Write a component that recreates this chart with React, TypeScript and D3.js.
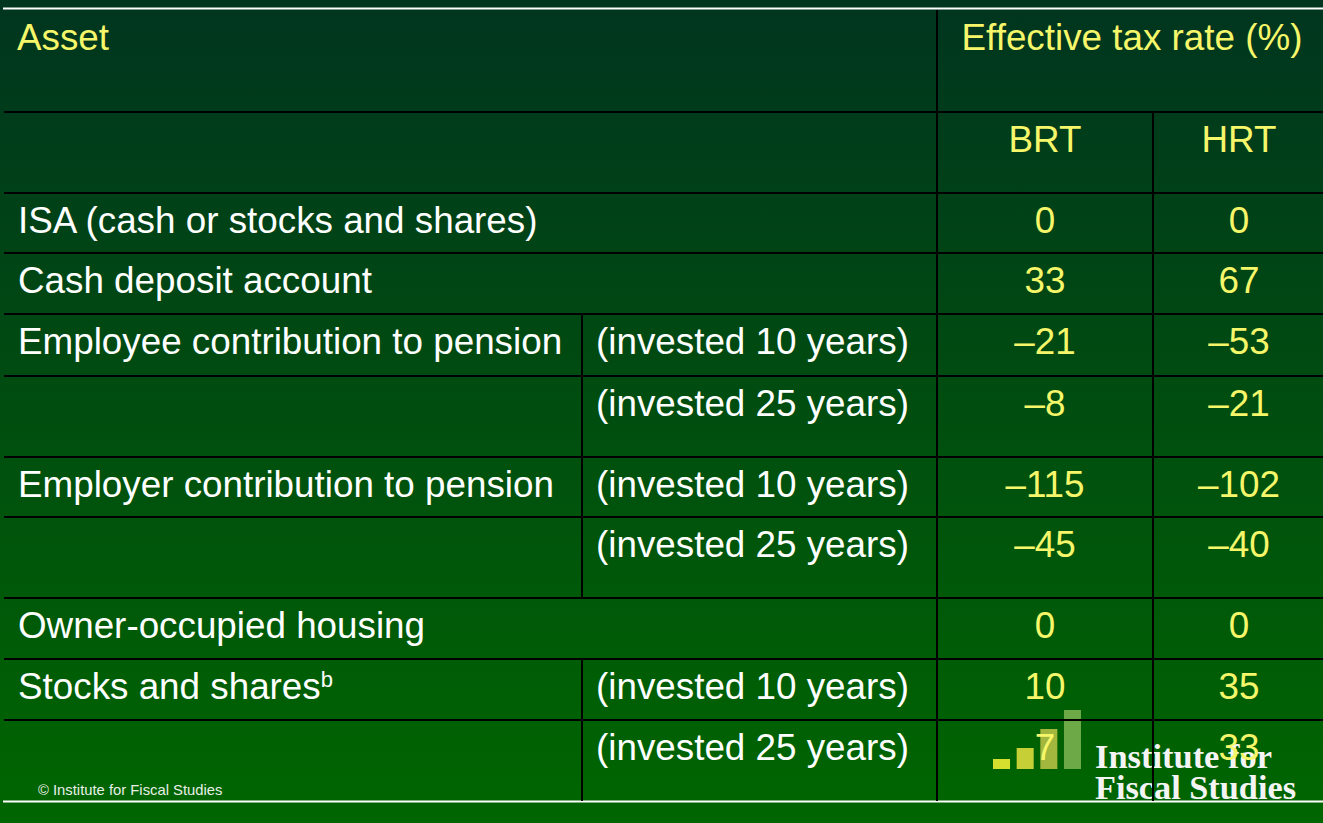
import { useEffect, useRef } from 'react'
import * as d3 from 'd3'

// table rows
const assets = [
  'ISA (cash or stocks and shares)',
  'Cash deposit account',
  'Employee contribution to pension',
  '',
  'Employer contribution to pension',
  '',
  'Owner-occupied housing',
  'Stocks and shares',
  '',
]
const horizons = ['', '', '(invested 10 years)', '(invested 25 years)', '(invested 10 years)', '(invested 25 years)', '', '(invested 10 years)', '(invested 25 years)']
const brt = [0, 33, -21, -8, -115, -45, 0, 10, 7]
const hrt = [0, 67, -53, -21, -102, -40, 0, 35, 33]
const rateColumns = ['BRT', 'HRT']
const logoBars = [10, 21, 40, 59]

const W = 1323
const H = 823
const YELLOW = '#f6f66a'
const FONT = '"Liberation Sans", Arial, sans-serif'

export default function App() {
  const svgRef = useRef<SVGSVGElement>(null)

  useEffect(() => {
    if (!svgRef.current) return
    const svg = d3.select(svgRef.current)
    svg.selectAll('*').remove()
    svg.attr('width', W).attr('height', H)

    const defs = svg.append('defs')
    const grad = defs.append('linearGradient').attr('id', 'bg').attr('x1', 0).attr('y1', 0).attr('x2', 0).attr('y2', 1)
    grad.append('stop').attr('offset', '0%').attr('stop-color', '#00351f')
    grad.append('stop').attr('offset', '100%').attr('stop-color', '#006600')
    svg.append('rect').attr('width', W).attr('height', H).attr('fill', 'url(#bg)')

    // row geometry
    const headerHeights = [102, 81]
    const rowHeights = [60, 61, 62, 81, 60, 81, 61, 61, 81]
    const top = 10
    const edges = [top, ...Array.from(d3.cumsum([...headerHeights, ...rowHeights]), (c) => top + c)]
    const bottom = edges[edges.length - 1]
    const left = 4
    const colX = { sub: 582, brt: 937, hrt: 1153, right: W }

    const colCenter = (c: string) => (c === 'BRT' ? (colX.brt + colX.hrt) / 2 : (colX.hrt + colX.right) / 2 + 1)

    // logo (sits under the grid and the numbers)
    const logo = svg.append('g')
    const barX = d3.scaleBand<number>().domain(d3.range(logoBars.length)).range([993, 1081]).paddingInner(0.28)
    const barY = d3.scaleLinear().domain([0, 59]).range([769, 710])
    const barColors = ['#d6de2e', '#c6cf36', '#a3b63d', '#6ea947']
    logo.selectAll('rect')
      .data(logoBars)
      .join('rect')
      .attr('x', (_d, i) => barX(i)!)
      .attr('width', barX.bandwidth())
      .attr('y', (d) => barY(d))
      .attr('height', (d) => barY(0) - barY(d))
      .attr('fill', (_d, i) => barColors[i])
    logo.append('text')
      .attr('x', 1095).attr('y', 768)
      .attr('font-family', '"Liberation Serif", "Times New Roman", serif')
      .attr('font-weight', 'bold').attr('font-size', 34)
      .attr('textLength', 177).attr('lengthAdjust', 'spacingAndGlyphs')
      .attr('fill', '#f4f4f4')
      .text('Institute for')
    logo.append('text')
      .attr('x', 1095).attr('y', 799)
      .attr('font-family', '"Liberation Serif", "Times New Roman", serif')
      .attr('font-weight', 'bold').attr('font-size', 34)
      .attr('textLength', 201).attr('lengthAdjust', 'spacingAndGlyphs')
      .attr('fill', '#f4f4f4')
      .text('Fiscal Studies')

    // white rules top and bottom
    svg.append('line').attr('x1', 3).attr('x2', W).attr('y1', 8.5).attr('y2', 8.5).attr('stroke', '#fff').attr('stroke-width', 1.8)
    svg.append('line').attr('x1', 3).attr('x2', W).attr('y1', bottom + 0.5).attr('y2', bottom + 0.5).attr('stroke', '#fff').attr('stroke-width', 1.8)

    // grid
    const grid = svg.append('g').attr('stroke', '#000').attr('stroke-width', 2)
    grid.selectAll('line.h')
      .data(edges.slice(1, -1))
      .join('line')
      .attr('class', 'h')
      .attr('x1', left).attr('x2', W)
      .attr('y1', (d) => d).attr('y2', (d) => d)
    grid.append('line').attr('x1', colX.brt).attr('x2', colX.brt).attr('y1', top).attr('y2', bottom)
    grid.append('line').attr('x1', colX.hrt).attr('x2', colX.hrt).attr('y1', edges[1]).attr('y2', bottom)
    grid.selectAll('line.v')
      .data(horizons.map((h, i) => ({ h, i })).filter((d) => d.h))
      .join('line')
      .attr('class', 'v')
      .attr('x1', colX.sub).attr('x2', colX.sub)
      .attr('y1', (d) => edges[d.i + 2]).attr('y2', (d) => edges[d.i + 3])

    const baseline = (i: number) => edges[i] + 39.5
    const txt = svg.append('g').attr('font-family', FONT).attr('font-size', 36.8)

    // headers
    txt.append('text').attr('x', 17).attr('y', baseline(0)).attr('fill', YELLOW).text('Asset')
    txt.append('text').attr('x', 1132).attr('y', baseline(0)).attr('text-anchor', 'middle').attr('fill', YELLOW).text('Effective tax rate (%)')
    txt.selectAll('text.col')
      .data(rateColumns)
      .join('text')
      .attr('class', 'col')
      .attr('x', (d) => colCenter(d))
      .attr('y', baseline(1))
      .attr('text-anchor', 'middle')
      .attr('fill', YELLOW)
      .text((d) => d)

    // asset labels
    const lab = txt.selectAll('text.asset')
      .data(assets.map((a, i) => ({ a, i })).filter((d) => d.a))
      .join('text')
      .attr('class', 'asset')
      .attr('x', 18)
      .attr('y', (d) => baseline(d.i + 2))
      .attr('fill', '#fff')
    lab.append('tspan').text((d) => d.a)
    lab.filter((d) => d.a === 'Stocks and shares')
      .append('tspan')
      .attr('font-size', 22)
      .attr('dy', -12)
      .text('b')

    txt.selectAll('text.horizon')
      .data(horizons.map((h, i) => ({ h, i })).filter((d) => d.h))
      .join('text')
      .attr('class', 'horizon')
      .attr('x', 596)
      .attr('y', (d) => baseline(d.i + 2))
      .attr('fill', '#fff')
      .text((d) => d.h)

    const fmt = (v: number) => (v < 0 ? '\u2013' + Math.abs(v) : String(v))
    const series: [string, number[]][] = [['BRT', brt], ['HRT', hrt]]
    series.forEach(([col, vals]) => {
      txt.selectAll(`text.v-${col}`)
        .data(vals)
        .join('text')
        .attr('class', `v-${col}`)
        .attr('x', colCenter(col))
        .attr('y', (_d, i) => baseline(i + 2))
        .attr('text-anchor', 'middle')
        .attr('fill', YELLOW)
        .text((d) => fmt(d))
    })

    // footer
    svg.append('text')
      .attr('x', 38).attr('y', 795)
      .attr('font-family', FONT).attr('font-size', 14.8)
      .attr('fill', '#e8efe8')
      .text('\u00a9 Institute for Fiscal Studies')
  }, [])

  return (
    <div style={{ position: 'absolute', left: 0, top: 0 }}>
      <svg ref={svgRef} style={{ display: 'block' }} />
    </div>
  )
}
